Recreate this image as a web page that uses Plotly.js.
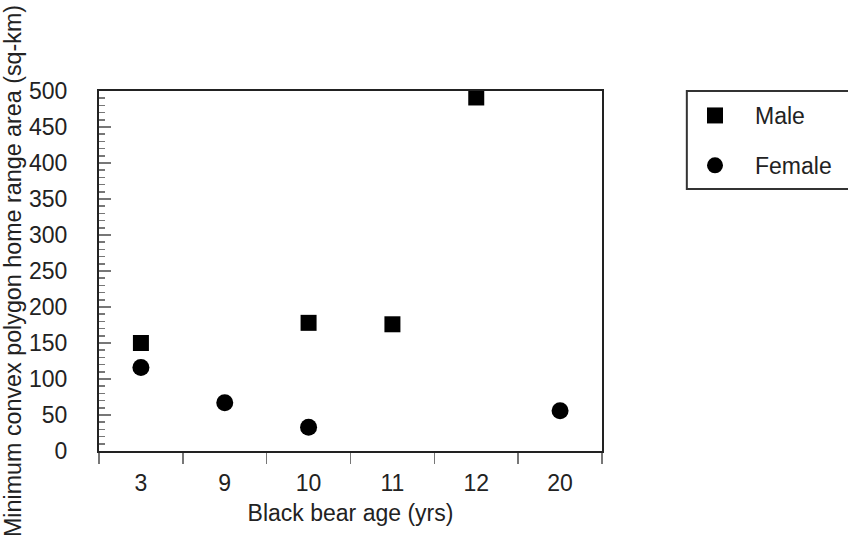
<!DOCTYPE html>
<html>
<head>
<meta charset="utf-8">
<script src="https://cdn.plot.ly/plotly-3.0.1.min.js"></script>
<style>html,body{margin:0;padding:0;background:#fff;}#chart{width:848px;height:554px;}</style>
</head>
<body>
<div id="chart"></div>
<script>
const categories = ["3", "9", "10", "11", "12", "20"];
const maleAges = ["3", "10", "11", "12"];
const maleValues = [150, 178, 176, 491];
const femaleAges = ["3", "9", "10", "20"];
const femaleValues = [116, 67, 33, 56];
const yTicks = [0, 50, 100, 150, 200, 250, 300, 350, 400, 450, 500];

const W = 848, H = 554;
const L = 99, R = 603, T = 91, B = 451;
const px = v => (v - L) / (R - L);
const py = v => (B - v) / (B - T);

const font = {family: "Liberation Sans, Arial, sans-serif", size: 23, color: "#222"};

const traces = [
  {x: maleAges, y: maleValues, name: "Male", type: "scatter", mode: "markers",
   marker: {symbol: "square", size: 16, color: "#000"}, legendgroup: "m"},
  {x: femaleAges, y: femaleValues, name: "Female", type: "scatter", mode: "markers",
   marker: {symbol: "circle", size: 17, color: "#000"}, legendgroup: "f"}
];

const layout = {
  width: W, height: H,
  margin: {l: L, r: W - R, t: T, b: H - B, pad: 0},
  paper_bgcolor: "#fff", plot_bgcolor: "#fff",
  font: font,
  showlegend: true,
  legend: {x: px(675), xanchor: "left", y: py(94), yanchor: "top",
           bgcolor: "rgba(0,0,0,0)", borderwidth: 0, font: font,
           traceorder: "grouped", tracegroupgap: 17, itemwidth: 70},
  xaxis: {type: "category", categoryorder: "array", categoryarray: categories,
          range: [-0.5, 5.5], showgrid: false, zeroline: false,
          showline: true, linecolor: "#222", linewidth: 2, mirror: true,
          ticks: "outside", tickson: "boundaries", ticklen: 11, tickcolor: "#777", tickwidth: 1.5,
          ticklabelstandoff: 10,
          tickfont: font,
          title: {text: "Black bear age (yrs)", font: font, standoff: 10},
          fixedrange: true},
  yaxis: {range: [0, 500], tickvals: yTicks, showgrid: false, zeroline: false,
          showline: true, linecolor: "#222", linewidth: 2, mirror: true,
          ticks: "inside", ticklen: 12, tickcolor: "#777", tickwidth: 1.5,
          minor: {dtick: 10, ticks: "inside", ticklen: 6, tickcolor: "#777", tickwidth: 1.5},
          ticklabelstandoff: 25,
          tickfont: font,
          title: {text: "Minimum convex polygon home range area (sq-km)", font: {family: font.family, size: 23.3, color: "#222"}, standoff: 3},
          fixedrange: true},
  shapes: [
    {type: "rect", xref: "paper", yref: "paper",
     x0: px(688), x1: px(870), y0: py(189), y1: py(91),
     line: {color: "#333", width: 2}, fillcolor: "rgba(0,0,0,0)"}
  ]
};

Plotly.newPlot("chart", traces, layout, {displayModeBar: false, staticPlot: true});
</script>
</body>
</html>
